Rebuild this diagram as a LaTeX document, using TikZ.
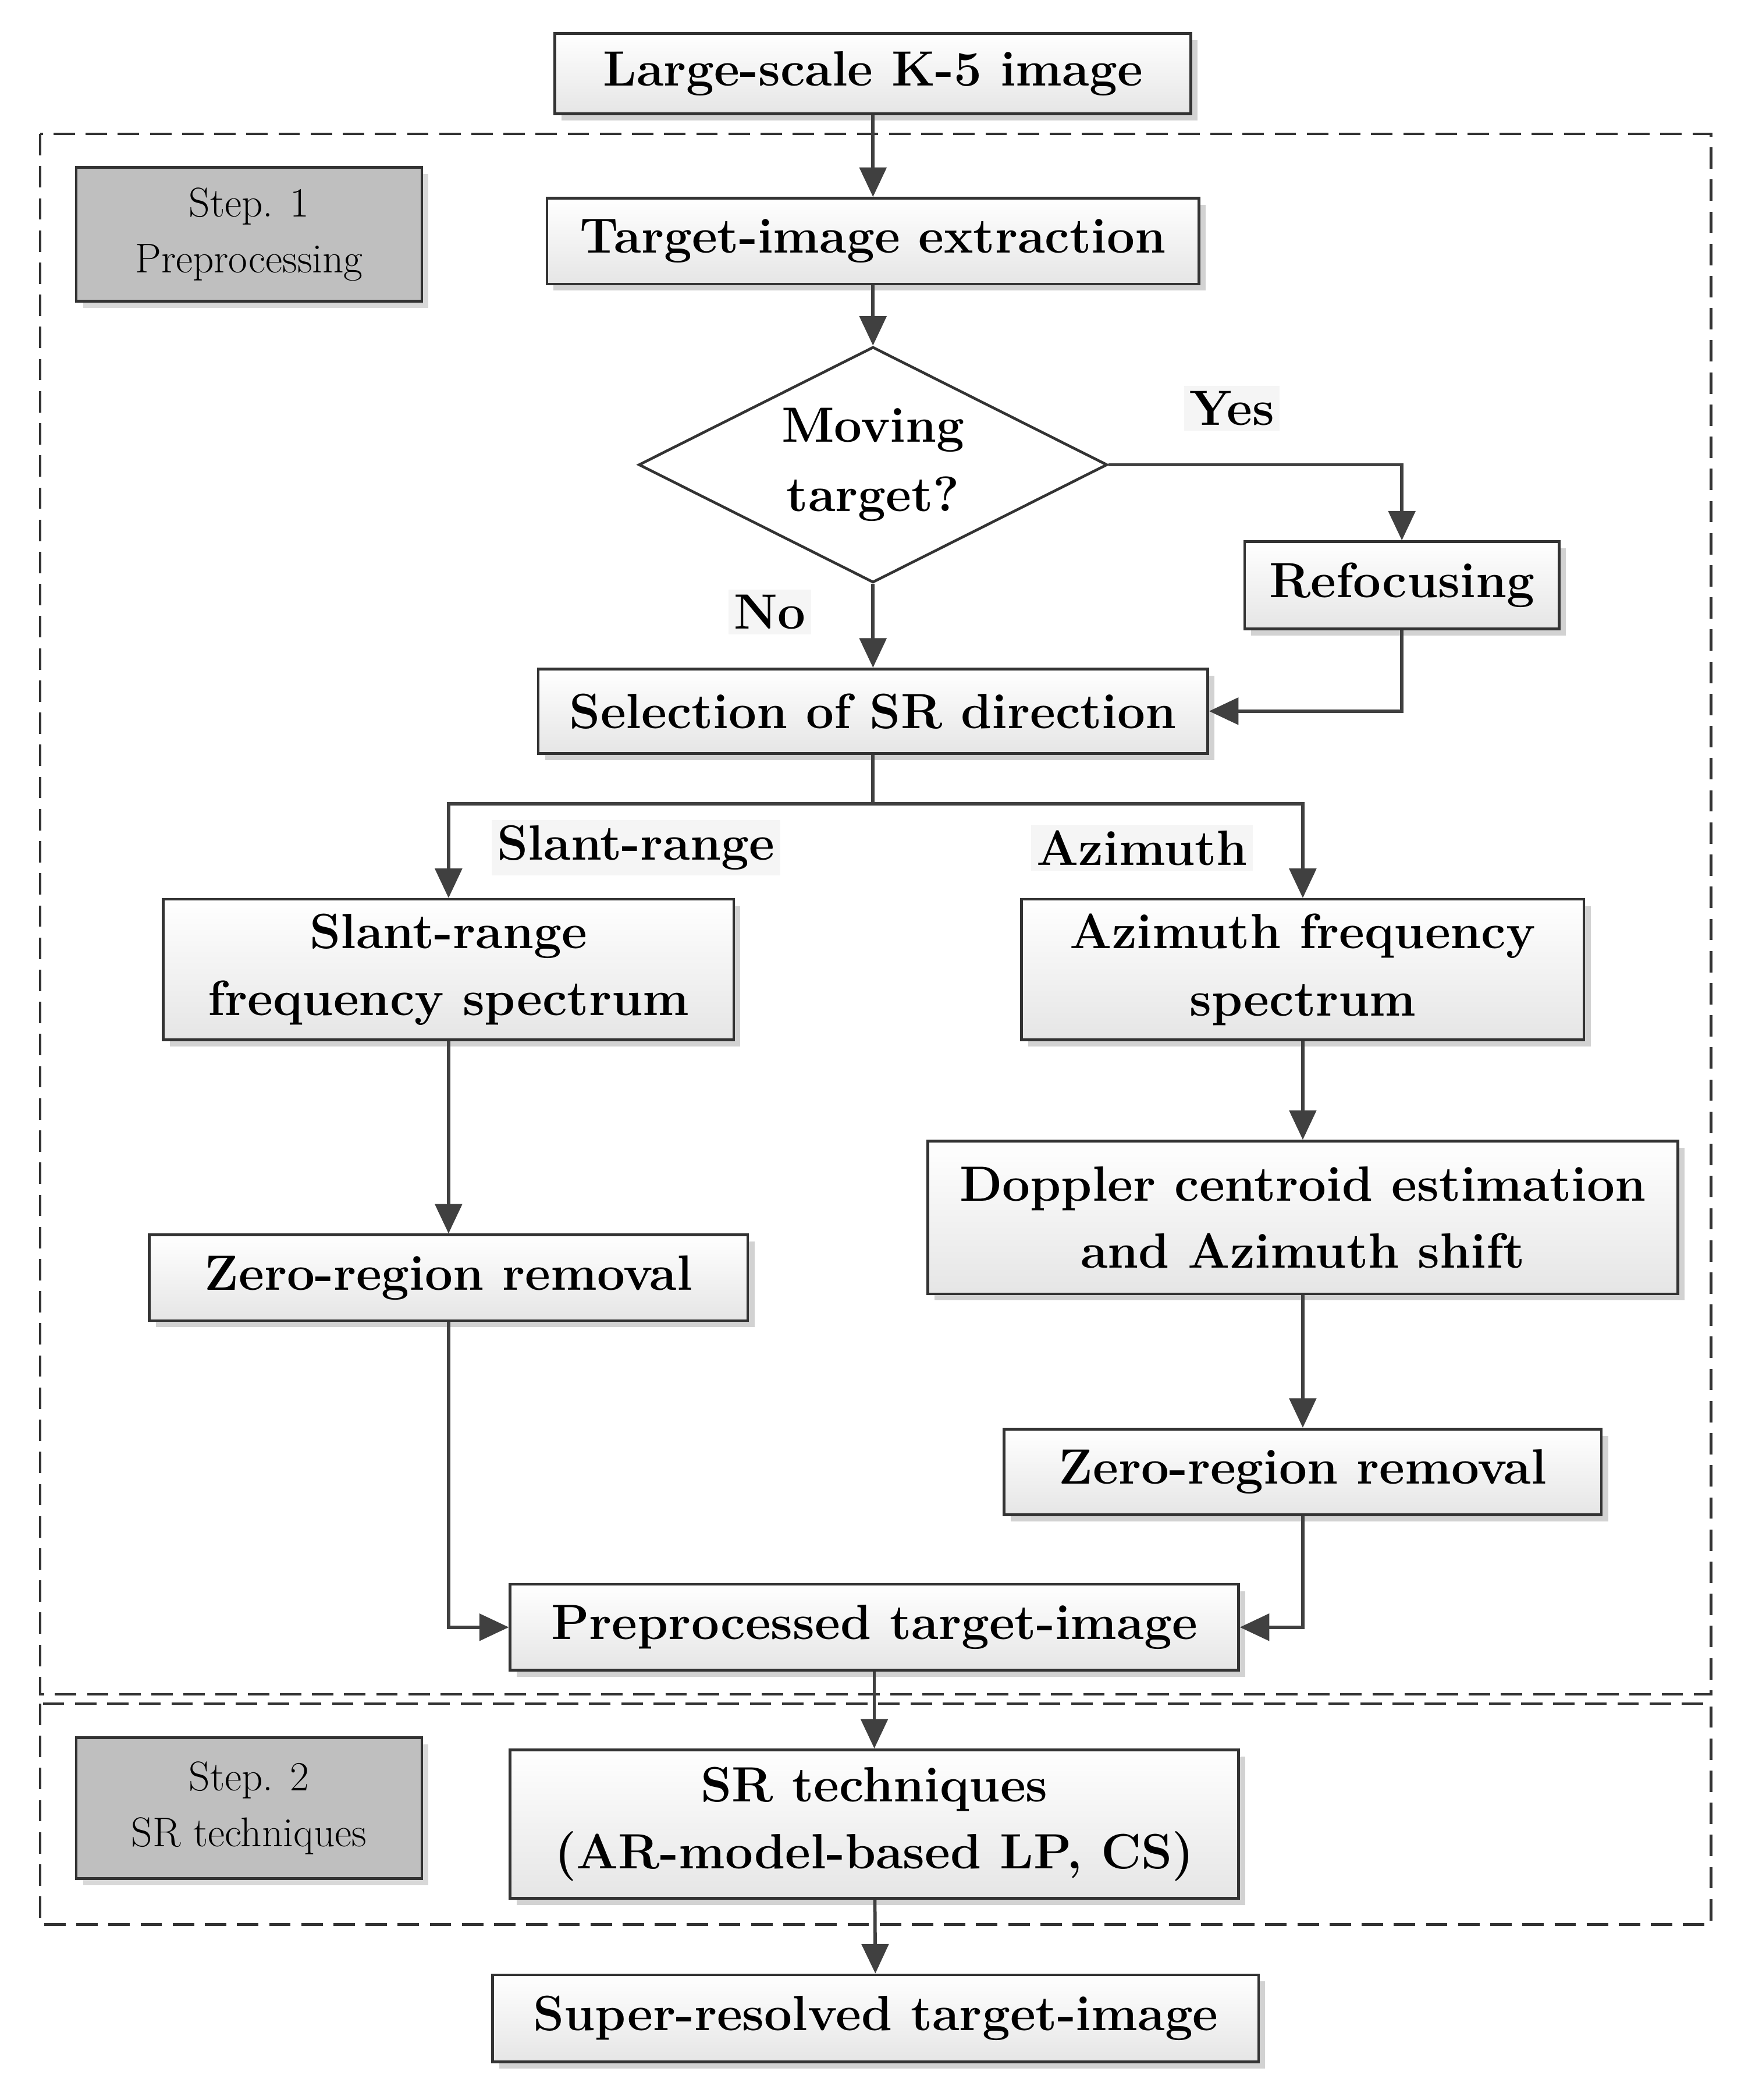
\documentclass[tikz,border=0pt]{standalone}
\usetikzlibrary{shapes.geometric,arrows.meta,shadows}
\begin{document}
\begin{tikzpicture}[x=1pt,y=-1pt,
 box/.style={draw=black!80,line width=2pt,top color=white,bottom color=black!10,drop shadow={shadow xshift=5pt,shadow yshift=-5pt,fill=black!35},font=\fontsize{37}{50}\selectfont\bfseries,align=center,inner sep=0pt},
 stepbox/.style={draw=black!80,line width=2pt,fill=black!25,drop shadow={shadow xshift=5pt,shadow yshift=-5pt,fill=black!30},font=\fontsize{31}{42}\selectfont,align=center,inner sep=0pt},
 lab/.style={font=\fontsize{37}{46}\selectfont\bfseries,fill=black!4,inner sep=4pt},
 arr/.style={draw=black!75,line width=2.5pt,-{Triangle[length=22pt,width=20pt]}},
 ln/.style={draw=black!75,line width=2.5pt},
 dsh/.style={draw=black!80,line width=2pt,dash pattern=on 16pt off 8pt}]
\useasboundingbox (0,0) rectangle (1300,1568);
\fill[white] (0,0) rectangle (1300,1568);
\draw[dsh] (30,100) rectangle (1278,1265);
\draw[dsh] (30,1272) rectangle (1278,1437);
\node[box,minimum width=475pt,minimum height=60pt] (a) at (652,55) {Large-scale K-5 image};
\node[stepbox,minimum width=258pt,minimum height=100pt] (s1) at (186,175) {Step. 1\\Preprocessing};
\node[box,minimum width=487pt,minimum height=64pt] (b) at (652,180) {Target-image extraction};
\node[diamond,draw=black!80,line width=2pt,fill=white,aspect=2,minimum width=350pt,minimum height=176pt,font=\fontsize{37}{52}\selectfont\bfseries,align=center,inner sep=0pt] (d) at (652,347) {Moving\\target?};
\node[lab] at (920,305) {Yes};
\node[lab] at (575,457) {No};
\node[box,minimum width=235pt,minimum height=65pt] (r) at (1047,437) {Refocusing};
\node[box,minimum width=500pt,minimum height=63pt] (sel) at (652,531) {Selection of SR direction};
\node[lab] at (475,633) {Slant-range};
\node[lab] at (853,633) {Azimuth};
\node[box,minimum width=426pt,minimum height=105pt] (sl) at (335,724) {Slant-range\\frequency spectrum};
\node[box,minimum width=420pt,minimum height=105pt] (az) at (973,724) {Azimuth frequency\\spectrum};
\node[box,minimum width=560pt,minimum height=114pt] (dop) at (973,909) {Doppler centroid estimation\\and Azimuth shift};
\node[box,minimum width=447pt,minimum height=64pt] (z1) at (335,954) {Zero-region removal};
\node[box,minimum width=446pt,minimum height=64pt] (z2) at (973,1099) {Zero-region removal};
\node[box,minimum width=544pt,minimum height=64pt] (p) at (653,1215) {Preprocessed target-image};
\node[stepbox,minimum width=258pt,minimum height=105pt] (s2) at (186,1350) {Step. 2\\SR techniques};
\node[box,minimum width=544pt,minimum height=111pt] (sr) at (653,1362) {SR techniques\\(AR-model-based LP, CS)};
\node[box,minimum width=572pt,minimum height=65pt] (o) at (654,1507) {Super-resolved target-image};
\coordinate (j) at (652,600);
\draw[arr] (a) -- (b);
\draw[arr] (b) -- (d);
\draw[arr] (d) -- (sel);
\draw[arr] (d.east) -| (r.north);
\draw[arr] (r.south) |- (sel.east);
\draw[ln] (sel.south) -- (j);
\draw[arr] (j) -| (sl.north);
\draw[arr] (j) -| (az.north);
\draw[arr] (sl) -- (z1);
\draw[arr] (az) -- (dop);
\draw[arr] (dop) -- (z2);
\draw[arr] (z1.south) |- (p.west);
\draw[arr] (z2.south) |- (p.east);
\draw[arr] (p) -- (sr);
\draw[arr] (sr) -- (o);
\end{tikzpicture}
\end{document}
